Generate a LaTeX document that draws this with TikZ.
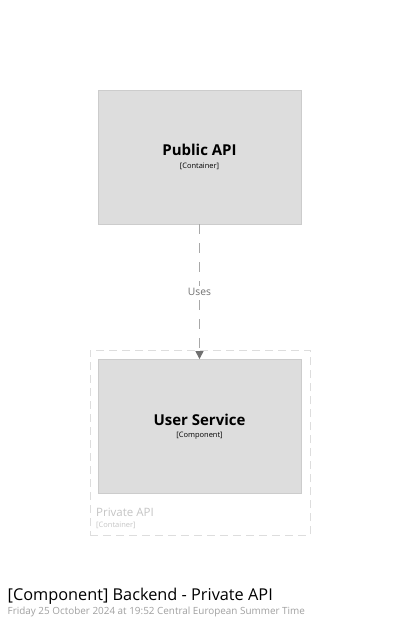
\documentclass[tikz,border=0pt]{standalone}
\usepackage{fontspec}
\setmainfont{Open Sans}
\usetikzlibrary{arrows.meta}
\definecolor{boxfill}{HTML}{DDDDDD}
\definecolor{boxline}{HTML}{CCCCCC}
\definecolor{relline}{HTML}{A8A8A8}
\definecolor{reltip}{HTML}{707070}
\definecolor{bndline}{HTML}{DDDDDD}
\definecolor{bndtext}{HTML}{C4C4C4}
\definecolor{datetext}{HTML}{A0A0A0}
\newcommand{\subfont}{\fontsize{7.5}{8.5}\selectfont}
\newcommand{\namefont}{\fontsize{15}{17}\selectfont\bfseries}

\begin{document}
\begin{tikzpicture}[x=1pt, y=-1pt,
  boxnode/.style={rectangle, draw=boxline, fill=boxfill, line width=0.8pt, minimum width=203pt, minimum height=134pt, align=center, inner sep=0pt},
  boundnode/.style={rectangle, draw=bndline, line width=0.8pt, dash pattern=on 8pt off 5pt, minimum width=220pt, minimum height=185pt, inner sep=0pt},
  reledge/.style={draw=relline, line width=1pt, dash pattern=on 10pt off 9pt, -{Triangle[width=8pt, length=8pt, color=reltip]}}]
\useasboundingbox (0,0) rectangle (400,625);
% boundary
\node[boundnode] at (200, 442.5) (pvt) {};
\node[anchor=west, inner sep=0pt, text=bndtext, font=\fontsize{11.5}{13}\selectfont] at (96, 512.5) (pvtname) {Private API};
\node[anchor=west, inner sep=0pt, text=bndtext, font=\subfont] at (96, 525) (pvttype) {[Container]};
% elements
\node[boxnode] at (199.5, 157) (papi) {{\namefont Public API}\\[0.5pt]{\subfont [Container]}};
\node[boxnode] at (199.5, 426.5) (usvc) {{\namefont User Service}\\[0.5pt]{\subfont [Component]}};
% relationship
\draw[reledge] (papi) -- (usvc) node[midway, fill=white, inner sep=2pt, text=reltip, font=\fontsize{10.3}{12}\selectfont] {Uses};
% title
\node[anchor=west, inner sep=0pt, font=\fontsize{16.3}{19}\selectfont] at (7.5, 596) (title) {[Component] Backend - Private API};
\node[anchor=west, inner sep=0pt, text=datetext, font=\fontsize{9.9}{11}\selectfont] at (7.5, 612) (date) {Friday 25 October 2024 at 19:52 Central European Summer Time};
\end{tikzpicture}
\end{document}
